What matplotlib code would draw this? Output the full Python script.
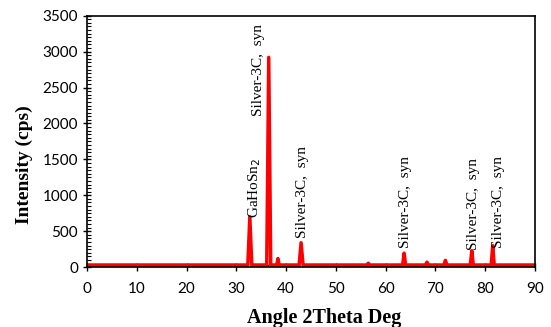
import matplotlib.pyplot as plt
from matplotlib.ticker import MultipleLocator

# XRD pattern: peak positions (deg) and intensities (cps)
two_theta = [0, 32.3, 32.7, 33.1, 36.1, 36.5, 36.9, 38.1, 38.35, 38.6,
             42.6, 43.0, 43.4, 56.2, 56.5, 56.8, 63.4, 63.7, 64.0,
             68.0, 68.3, 68.6, 71.7, 72.0, 72.3, 77.0, 77.3, 77.6,
             81.2, 81.5, 81.8, 90]
intensity = [30, 30, 700, 30, 30, 2920, 30, 30, 120, 30,
             30, 340, 30, 30, 55, 30, 30, 195, 30,
             30, 70, 30, 30, 95, 30, 30, 230, 30,
             30, 300, 30, 30]
background = 25

# phase labels: text, x, bottom y
peak_labels = ['GaHoSn$_2$', 'Silver-3C,  syn', 'Silver-3C,  syn',
               'Silver-3C,  syn', 'Silver-3C,  syn', 'Silver-3C,  syn']
label_x = [33.7, 34.4, 43.3, 63.9, 77.7, 82.6]
label_y = [690, 2100, 400, 270, 240, 270]

fig = plt.figure(figsize=(5.51, 3.27), dpi=100)
ax = fig.add_axes([0.158, 0.183, 0.813, 0.769])

ax.axhline(background, color='black', linestyle=(0, (1, 1.5)), linewidth=1.0, zorder=1)
ax.plot(two_theta, intensity, color='#ff0000', linewidth=2.5, zorder=2)

for txt, x, y in zip(peak_labels, label_x, label_y):
    ax.text(x, y, txt, rotation=90, ha='center', va='bottom',
            fontsize=11, family='Liberation Serif')

ax.set_xlim(0, 90)
ax.set_ylim(0, 3500)
ax.xaxis.set_major_locator(MultipleLocator(10))
ax.yaxis.set_major_locator(MultipleLocator(500))
ax.yaxis.set_minor_locator(MultipleLocator(50))
ax.tick_params(axis='both', which='major', direction='inout', length=6, width=1,
               labelsize=11)
ax.tick_params(axis='x', which='major', pad=8)
ax.tick_params(axis='y', which='minor', direction='in', length=3, width=0.8)
for lbl in ax.get_xticklabels() + ax.get_yticklabels():
    lbl.set_family('Lato')

for s in ax.spines.values():
    s.set_linewidth(1.2)

ax.set_xlabel('Angle 2Theta Deg', fontsize=14.5, fontweight='bold',
              family='Liberation Serif')
ax.set_ylabel('Intensity (cps)', fontsize=14, fontweight='bold',
              family='Liberation Serif')
ax.xaxis.set_label_coords(0.529, -0.162)
ax.yaxis.set_label_coords(-0.121, 0.407)

fig.savefig('out.png', dpi=100)
